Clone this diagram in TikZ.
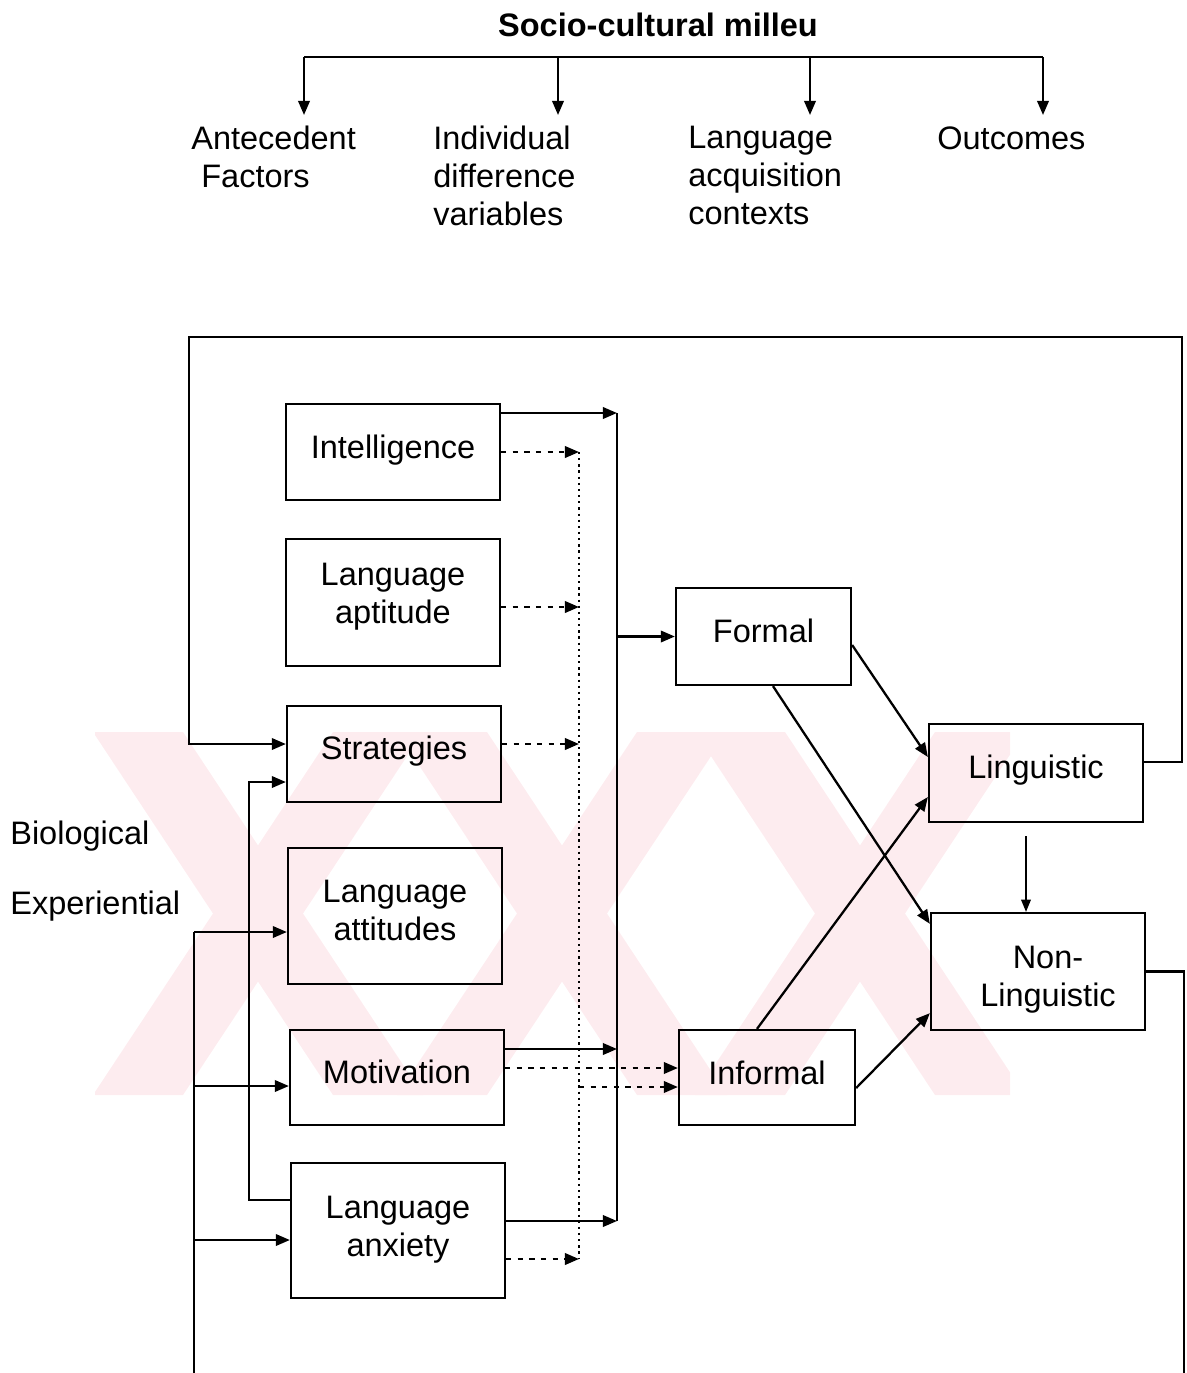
\documentclass[tikz,border=0pt]{standalone}
\usepackage{fontspec}
\setmainfont{Liberation Sans}
\usetikzlibrary{arrows.meta,calc}
\definecolor{wmpink}{RGB}{253,236,239}
% box label: lines stacked and centred, nudged vertically by #1 (size kept)
\newcommand{\btxt}[2]{\raisebox{#1}[\height][\depth]{\begin{tabular}{@{}c@{}}#2\end{tabular}}}
\begin{document}
\begin{tikzpicture}[x=0.02cm,y=-0.02cm,
  every node/.style={font=\fontsize{18.5}{21.5}\selectfont},
  box/.style={draw,line width=1.3pt,align=center,inner sep=0pt},
  arr/.style={line width=1.3pt,-{Triangle[length=8pt,width=6.5pt]}},
  plain/.style={line width=1.3pt},
  dotarr/.style={line width=1.4pt,dash pattern=on 3pt off 3.6pt,-{Triangle[length=8pt,width=6.5pt]}},
  dotline/.style={line width=1.5pt,dash pattern=on 1.3pt off 2.2pt},
  lbl/.style={align=left,inner sep=0pt}]
\useasboundingbox (0,0) rectangle (1187,1373);

% faint background emblem
\begin{scope}
  \clip (95,732) rectangle (1010,1095);
  \foreach \c in {258,562,860}{
    \fill[wmpink] (\c-165,732) -- (\c-75,732) -- (\c+165,1095) -- (\c+75,1095) -- cycle;
    \fill[wmpink] (\c+75,732) -- (\c+165,732) -- (\c-75,1095) -- (\c-165,1095) -- cycle;
  }
\end{scope}

% heading and its four branches
\node[font=\fontsize{18.5}{21.5}\selectfont\bfseries] (title) at (658,25) {Socio-cultural milleu};
\coordinate (t1) at (304,57);
\coordinate (t2) at (558,57);
\coordinate (t3) at (810,57);
\coordinate (t4) at (1043,57);
\coordinate (a1) at (304,115);
\coordinate (a2) at (558,115);
\coordinate (a3) at (810,115);
\coordinate (a4) at (1043,115);
\draw[plain] (t1) -- (t4);
\draw[arr] (t1) -- (a1);
\draw[arr] (t2) -- (a2);
\draw[arr] (t3) -- (a3);
\draw[arr] (t4) -- (a4);
\node[lbl,anchor=north west] (ante) at (191,126) {Antecedent\\\hspace*{0.2cm}Factors};
\node[lbl,anchor=north west] (indiv) at (433,126) {Individual\\difference\\variables};
\node[lbl,anchor=north west] (ctx) at (688,126) {Language\\acquisition\\contexts};
\node[lbl,anchor=north west] (outc) at (937,126) {Outcomes};

% side labels
\node[lbl,anchor=west] (bio) at (10,836) {Biological};
\node[lbl,anchor=west] (exp) at (10,906) {Experiential};

% individual difference boxes
\node[box,minimum width=4.28cm,minimum height=1.92cm] (intel) at (393,452) {\btxt{0.6pt}{Intelligence}};
\node[box,minimum width=4.28cm,minimum height=2.54cm] (apt) at (393,602.5) {\btxt{3.1pt}{Language\\aptitude}};
\node[box,minimum width=4.28cm,minimum height=1.92cm] (strat) at (394,754) {\btxt{1.1pt}{Strategies}};
\node[box,minimum width=4.28cm,minimum height=2.72cm] (att) at (395,916) {\btxt{1.1pt}{Language\\attitudes}};
\node[box,minimum width=4.28cm,minimum height=1.90cm] (mot) at (397,1077.5) {\btxt{1.1pt}{Motivation}};
\node[box,minimum width=4.28cm,minimum height=2.70cm] (anx) at (398,1230.5) {\btxt{0.3pt}{Language\\anxiety}};

% contexts
\node[box,minimum width=3.50cm,minimum height=1.94cm] (formal) at (763.5,636.5) {\btxt{1.1pt}{Formal}};
\node[box,minimum width=3.52cm,minimum height=1.90cm] (informal) at (767,1077.5) {\btxt{0.6pt}{Informal}};

% outcomes
\node[box,minimum width=4.28cm,minimum height=1.96cm] (ling) at (1036,773) {\btxt{1.1pt}{Linguistic}};
\node[box,minimum width=4.28cm,minimum height=2.34cm] (nonling) at (1038,971.5) {\hspace*{0.4cm}\btxt{-4.8pt}{Non-\\Linguistic}};

% solid collector towards the formal context
\coordinate (busTop) at (617,413);
\coordinate (busMot) at (617,1049);
\coordinate (busBot) at (617,1221);
\draw[plain] (busTop) -- (busBot);
\draw[arr] (intel.east |- busTop) -- (busTop);
\draw[arr] (mot.east |- busMot) -- (busMot);
\draw[arr] (anx.east |- busBot) -- (busBot);
\draw[arr] (formal.west -| busTop) -- (formal.west);

% dotted collector towards the informal context
\coordinate (dTop) at (579,452);
\coordinate (dApt) at (579,607);
\coordinate (dStr) at (579,744);
\coordinate (dInf) at (579,1087);
\coordinate (dBot) at (579,1259);
\draw[dotline] (dTop) -- (dBot);
\draw[dotarr] (intel.east) -- (intel.east -| dTop);
\draw[dotarr] (apt.east |- dApt) -- (dApt);
\draw[dotarr] (strat.east |- dStr) -- (dStr);
\draw[dotarr] (anx.east |- dBot) -- (dBot);
\draw[dotarr] ($(mot.east)+(0,-9.5)$) -- ($(informal.west)+(0,-9.5)$);
\draw[dotarr] (dInf) -- (informal.west |- dInf);

% contexts to outcomes
\draw[arr] ($(formal.east)+(0,8.5)$) -- ($(ling.west)+(0,-16)$);
\draw[arr] ($(formal.south)+(9.5,0)$) -- ($(nonling.north west)+(0,12)$);
\draw[arr] ($(informal.north)+(-10,0)$) -- ($(ling.west)+(0,24)$);
\draw[arr] ($(informal.east)+(0,10.5)$) -- ($(nonling.south west)+(0,-18)$);
\draw[line width=0.9pt,-{Triangle[length=7pt,width=5.5pt]}] ($(ling.south)+(-10,13)$) -- ($(nonling.north)+(-12,0)$);

% feedback from linguistic outcomes to strategies
\coordinate (loopTR) at (1182,337);
\coordinate (loopTL) at (189,337);
\draw[arr] ($(ling.east)+(0,-11)$) -| (loopTR) -- (loopTL) |- ($(strat.west)+(0,-10)$);

% non-linguistic outcomes leaving the page
\coordinate (outEnd) at (1184,1373);
\draw[plain] (nonling.east) -| (outEnd);

% experiential feed into attitudes, motivation and anxiety
\coordinate (e0) at (194,1373);
\coordinate (e1) at (194,932);
\coordinate (e2) at (194,1086);
\coordinate (e3) at (194,1240);
\draw[plain] (e0) -- (e1);
\draw[arr] (e1) -- (att.west |- e1);
\draw[arr] (e2) -- (mot.west |- e2);
\draw[arr] (e3) -- (anx.west |- e3);

% anxiety back to strategies
\coordinate (anxUp) at (249,1200);
\draw[arr] (anx.west |- anxUp) -- (anxUp) |- ($(strat.west)+(0,28)$);
\end{tikzpicture}
\end{document}
